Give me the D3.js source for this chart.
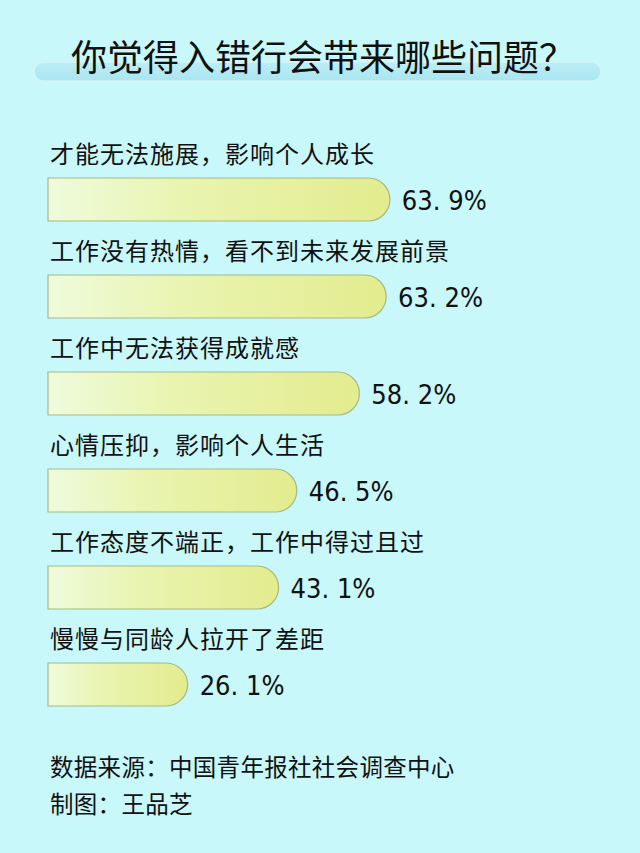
<!DOCTYPE html>
<html>
<head>
<meta charset="utf-8">
<script src="https://cdn.jsdelivr.net/npm/d3@7"></script>
<style>
html,body{margin:0;padding:0;background:#c8f8fa;}
svg{display:block;}
</style>
</head>
<body>
<script>
const title = "你觉得入错行会带来哪些问题？";
const categories = [
  "才能无法施展，影响个人成长",
  "工作没有热情，看不到未来发展前景",
  "工作中无法获得成就感",
  "心情压抑，影响个人生活",
  "工作态度不端正，工作中得过且过",
  "慢慢与同龄人拉开了差距"
];
const values = [63.9, 63.2, 58.2, 46.5, 43.1, 26.1];
const footnotes = ["数据来源：中国青年报社社会调查中心", "制图：王品芝"];

const W = 640, H = 853;
const svg = d3.select("body").append("svg").attr("width", W).attr("height", H);
svg.append("rect").attr("width", W).attr("height", H).attr("fill", "#c8f8fa");

const defs = svg.append("defs");
const g1 = defs.append("linearGradient").attr("id", "barGrad").attr("x1", "0").attr("x2", "1").attr("y1", "0").attr("y2", "0");
g1.append("stop").attr("offset", "0%").attr("stop-color", "#effbdc");
g1.append("stop").attr("offset", "40%").attr("stop-color", "#e9f4b0");
g1.append("stop").attr("offset", "100%").attr("stop-color", "#e3ec8e");
const g2 = defs.append("linearGradient").attr("id", "titleGrad").attr("x1", "0").attr("x2", "0").attr("y1", "0").attr("y2", "1");
g2.append("stop").attr("offset", "0%").attr("stop-color", "#bdeef6");
g2.append("stop").attr("offset", "100%").attr("stop-color", "#a9e5f0");

// title bar
svg.append("rect").attr("x", 34).attr("y", 62).attr("width", 567).attr("height", 19)
  .attr("rx", 9.5).attr("fill", "url(#titleGrad)").attr("stroke", "#d3f4f8").attr("stroke-width", 1.5);
svg.append("text").attr("x", 323).attr("y", 71).attr("text-anchor", "middle")
  .attr("font-family", "'Noto Sans CJK SC', sans-serif").attr("font-size", 36)
  .attr("fill", "#111").text(title);

const x = d3.scaleLinear().domain([0, 100]).range([48, 583]);
const bh = 43;
const step = 97;
const yTop = (i) => 178 + i * step;

const rows = svg.selectAll("g.row").data(categories.map((c, i) => ({c, v: values[i], i})))
  .enter().append("g").attr("class", "row");

rows.append("text")
  .attr("x", 50).attr("y", d => yTop(d.i) - 15)
  .attr("font-family", "'Noto Sans CJK SC', sans-serif").attr("font-size", 24)
  .attr("letter-spacing", 1)
  .attr("fill", "#111").text(d => d.c);

rows.append("path")
  .attr("d", d => {
    const x0 = x(0), x1 = x(d.v), t = yTop(d.i), r = bh / 2;
    return `M${x0},${t} H${x1 - r} A${r},${r} 0 0 1 ${x1 - r},${t + bh} H${x0} Z`;
  })
  .attr("fill", "url(#barGrad)").attr("stroke", "#a3b98a").attr("stroke-width", 1.2);

rows.append("text")
  .attr("x", d => x(d.v) + 12).attr("y", d => yTop(d.i) + bh / 2 + 10)
  .attr("font-family", "'Liberation Sans Narrow', 'DejaVu Sans Condensed', 'Liberation Sans', sans-serif")
  .attr("font-stretch", "condensed")
  .attr("font-size", 27)
  .attr("fill", "#111").text(d => d.v.toFixed(1).replace(".", ". ") + "%");

svg.selectAll("text.foot").data(footnotes).enter().append("text").attr("class", "foot")
  .attr("x", 50).attr("y", (d, i) => 776 + i * 37)
  .attr("font-family", "'Noto Sans CJK SC', sans-serif").attr("font-size", 23.5)
  .attr("letter-spacing", 0.3)
  .attr("fill", "#111").text(d => d);
</script>
</body>
</html>
